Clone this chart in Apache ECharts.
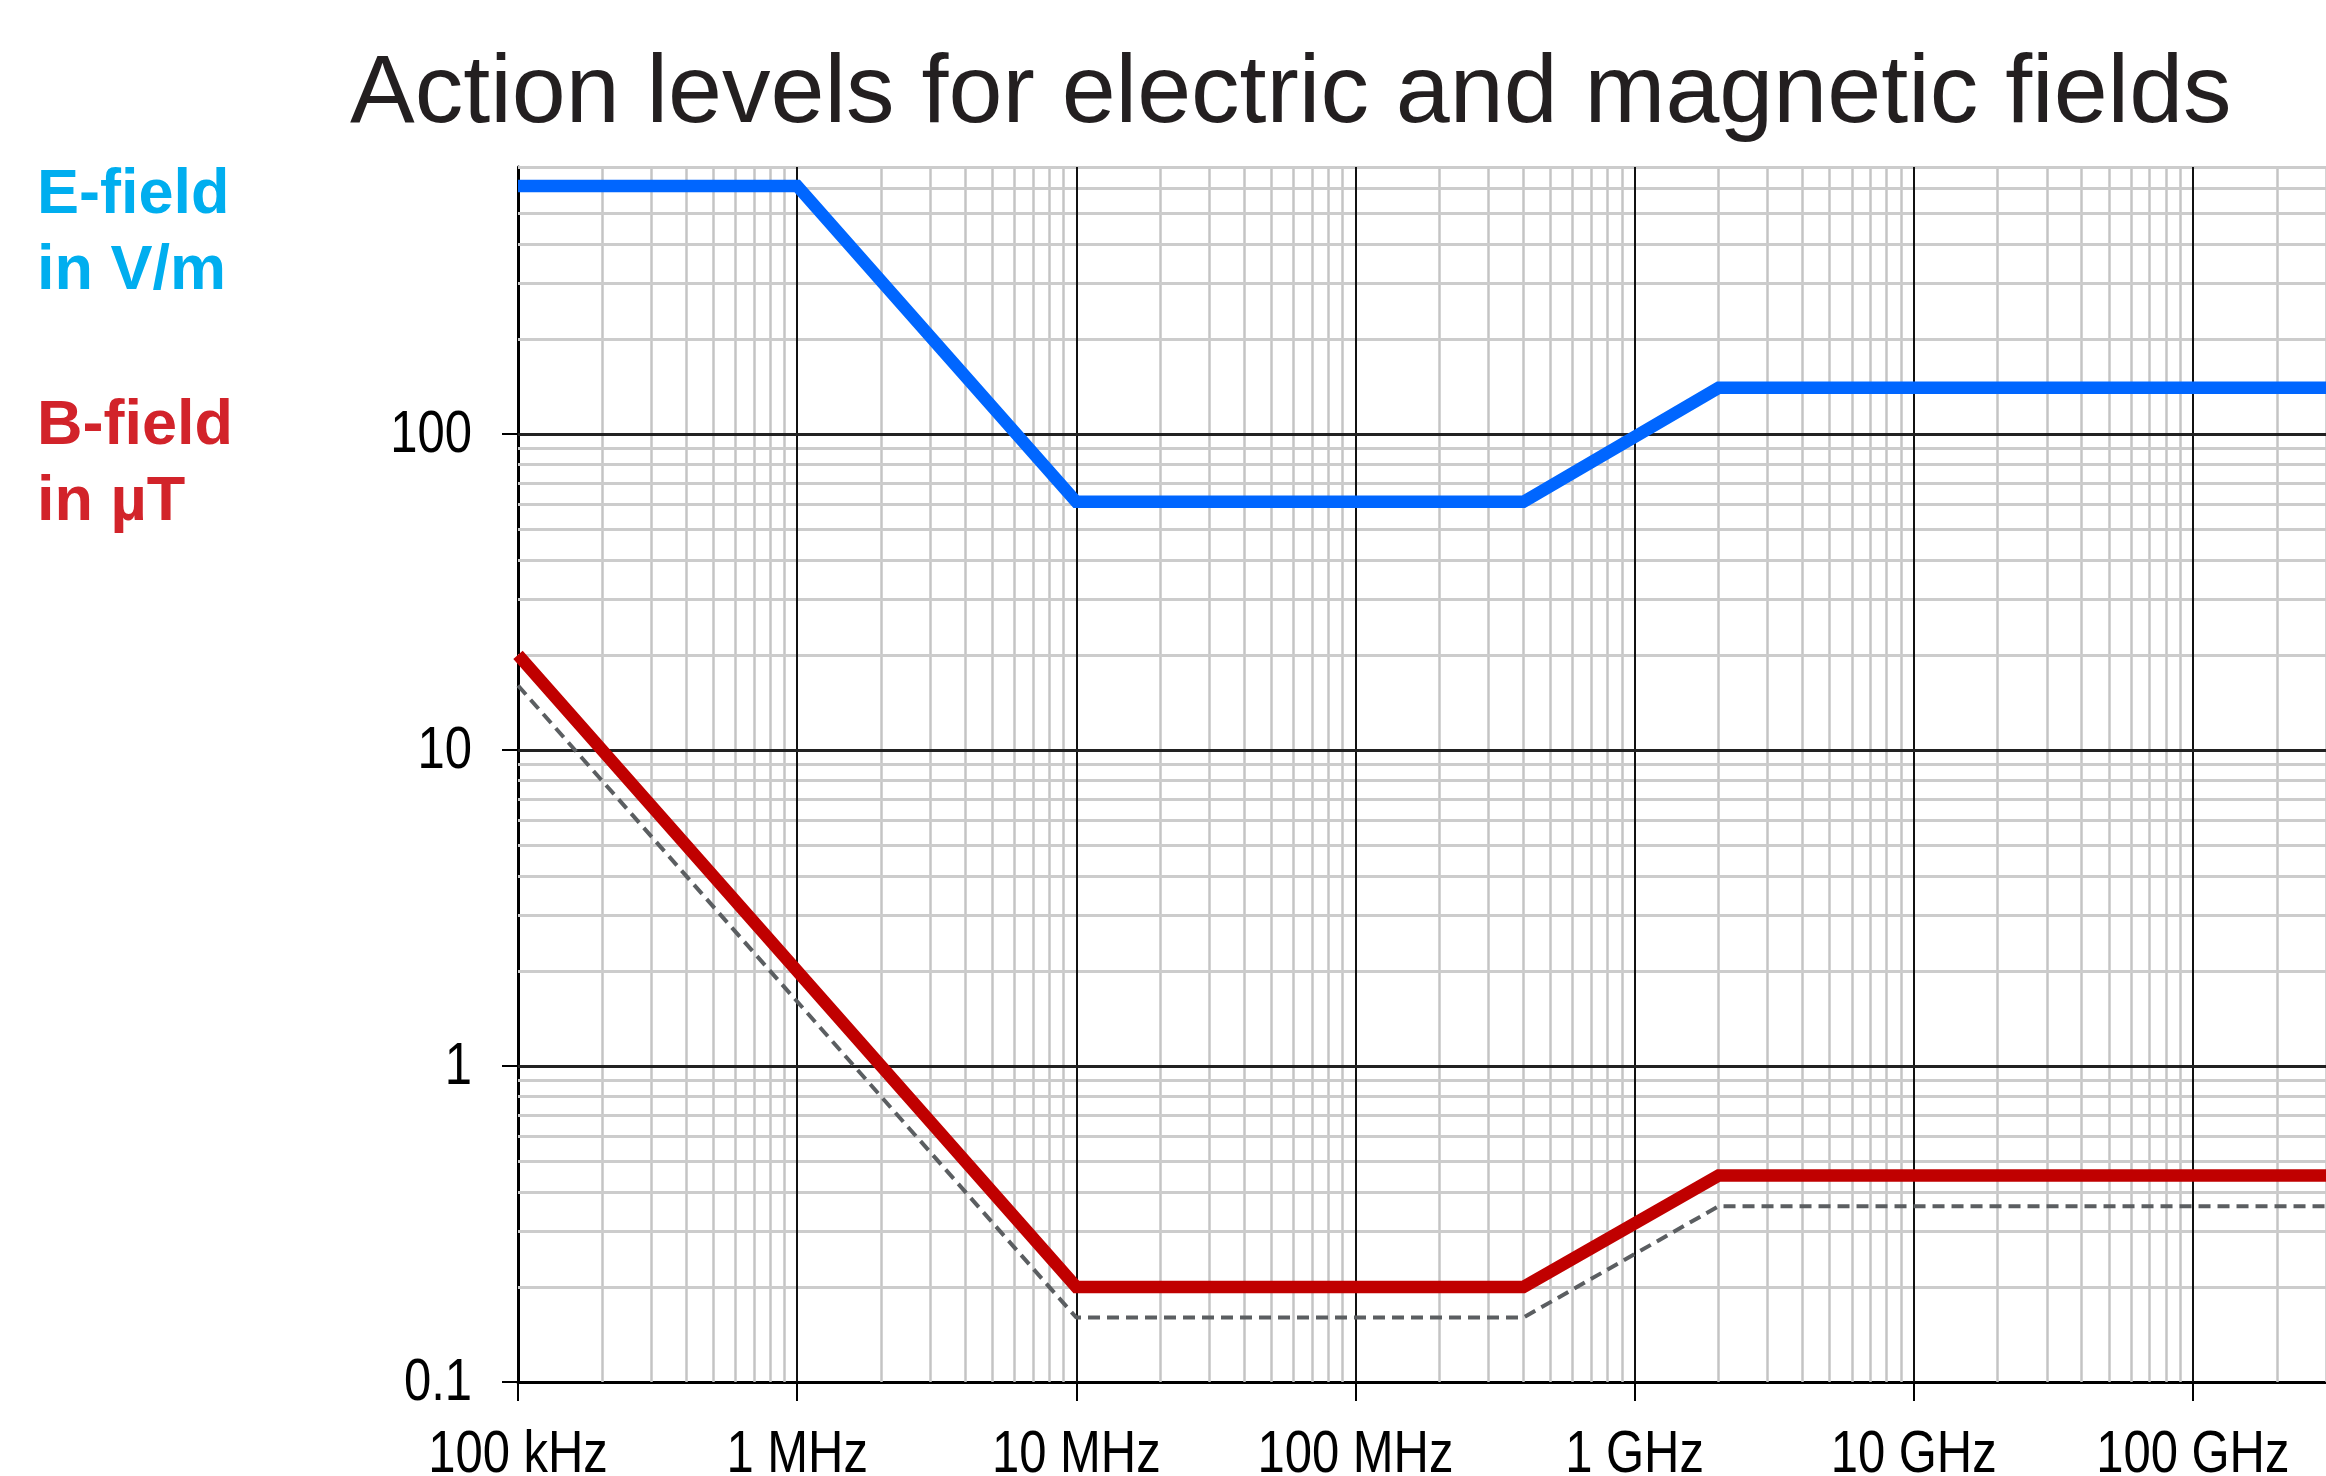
<!DOCTYPE html>
<html>
<head>
<meta charset="utf-8">
<script src="https://cdn.jsdelivr.net/npm/echarts@6/dist/echarts.min.js"></script>
<style>
html,body{margin:0;padding:0;background:#fff;}
#chart{width:2326px;height:1476px;}
</style>
</head>
<body>
<div id="chart"></div>
<script>
// ---- data ----
const titleText = 'Action levels for electric and magnetic fields';
const xTickValues = [1e5, 1e6, 1e7, 1e8, 1e9, 1e10, 1e11];
const xTickLabels = ['100 kHz', '1 MHz', '10 MHz', '100 MHz', '1 GHz', '10 GHz', '100 GHz'];
const yTickValues = [0.1, 1, 10, 100];
const yTickLabels = ['0.1', '1', '10', '100'];

// E-field (V/m)
const eFreq = [1e5, 1e6, 1e7, 4e8, 2e9, 3e11];
const eVals = [610, 610, 61, 61, 140, 140];
// B-field (µT)
const bFreq = [1e5, 1e7, 4e8, 2e9, 3e11];
const bVals = [20, 0.2, 0.2, 0.45, 0.45];
// dashed reference curve
const hFreq = [1e5, 1e7, 4e8, 2e9, 3e11];
const hVals = [16, 0.16, 0.16, 0.36, 0.36];

const xMin = 1e5, xMax = 3e11, yMin = 0.1, yMax = 700;

function pairs(xs, ys) { return xs.map((x, i) => [x, ys[i]]); }

// grid lines (minor at 2..9 of each decade, major at decades)
const gridItems = [];
const minorX = { color: '#c4c4c4', width: 2.5, type: 'solid' };
const minorY = { color: '#cccccc', width: 3, type: 'solid' };
for (let e = 5; e <= 11; e++) {
  for (let m = 2; m <= 9; m++) {
    const v = m * Math.pow(10, e);
    if (v <= xMax) gridItems.push({ xAxis: v, lineStyle: minorX });
  }
}
for (let e = -1; e <= 2; e++) {
  for (let m = 2; m <= 9; m++) {
    const v = m * Math.pow(10, e);
    if (v <= yMax + 1e-9) gridItems.push({ yAxis: v, lineStyle: minorY });
  }
}
xTickValues.slice(1).forEach(v => gridItems.push({ xAxis: v, lineStyle: { color: '#111', width: 2, type: 'solid' } }));
yTickValues.slice(1).forEach(v => gridItems.push({ yAxis: v, lineStyle: { color: '#222', width: 3, type: 'solid' } }));

const chart = echarts.init(document.getElementById('chart'), null, { renderer: 'canvas' });
const labelFont = '59px "Liberation Sans", Arial, sans-serif';
const labelScale = 0.83;

chart.setOption({
  animation: false,
  backgroundColor: '#ffffff',
  title: {
    text: titleText,
    left: 350,
    top: 47,
    padding: 0,
    textStyle: { fontFamily: '"Liberation Sans", Arial, sans-serif', fontSize: 97, fontWeight: 'normal', color: '#231f20', lineHeight: 97 }
  },
  grid: { left: 518, top: 167, right: -6, bottom: 94, containLabel: false },
  xAxis: {
    type: 'log', logBase: 10, min: xMin, max: xMax,
    axisLine: { show: true, onZero: false, lineStyle: { color: '#000', width: 3 } },
    axisTick: { show: true, length: 19, inside: false, customValues: xTickValues, lineStyle: { color: '#000', width: 2 } },
    splitLine: { show: false },
    minorTick: { show: false },
    axisLabel: { show: false }
  },
  yAxis: {
    type: 'log', logBase: 10, min: yMin, max: yMax,
    axisLine: { show: true, onZero: false, lineStyle: { color: '#000', width: 3 } },
    axisTick: { show: true, length: 16, inside: false, customValues: yTickValues, lineStyle: { color: '#000', width: 2 } },
    splitLine: { show: false },
    minorTick: { show: false },
    axisLabel: { show: false }
  },
  series: [
    {
      name: 'grid', type: 'line', data: [], silent: true, z: 1,
      markLine: { silent: true, z: 1, animation: false, symbol: ['none', 'none'], label: { show: false }, emphasis: { disabled: true }, data: gridItems }
    },
    {
      name: 'H', type: 'line', z: 3, data: pairs(hFreq, hVals), symbol: 'none', silent: true,
      lineStyle: { color: '#5b5e61', width: 4, type: [12, 7] }
    },
    {
      name: 'B-field', type: 'line', z: 4, data: pairs(bFreq, bVals), symbol: 'none', silent: true,
      lineStyle: { color: '#c00000', width: 12.5, join: 'miter' }
    },
    {
      name: 'E-field', type: 'line', z: 5, data: pairs(eFreq, eVals), symbol: 'none', silent: true,
      lineStyle: { color: '#0066ff', width: 12.5, join: 'miter' }
    }
  ]
});

// Tick labels (horizontally condensed like the reference), placed through the axes' scales
const graphics = [
  {
    type: 'text', left: 37, top: 158, silent: true,
    style: { text: 'E-field\nin V/m', fill: '#00aeef', font: 'bold 63px "Liberation Sans", Arial, sans-serif', lineHeight: 76 }
  },
  {
    type: 'text', left: 37, top: 389, silent: true,
    style: { text: 'B-field\nin µT', fill: '#d2232a', font: 'bold 63px "Liberation Sans", Arial, sans-serif', lineHeight: 76 }
  }
];
xTickValues.forEach((v, i) => {
  const p = chart.convertToPixel({ gridIndex: 0 }, [v, yMin]);
  graphics.push({
    type: 'text', x: p[0], y: p[1] + 44, scaleX: labelScale, silent: true,
    style: { text: xTickLabels[i], font: labelFont, fill: '#000', align: 'center', verticalAlign: 'top' }
  });
});
yTickValues.forEach((v, i) => {
  const p = chart.convertToPixel({ gridIndex: 0 }, [xMin, v]);
  graphics.push({
    type: 'text', x: p[0] - 46, y: p[1] + 2, scaleX: labelScale, silent: true,
    style: { text: yTickLabels[i], font: labelFont, fill: '#000', align: 'right', verticalAlign: 'middle' }
  });
});
chart.setOption({ graphic: graphics });
</script>
</body>
</html>
